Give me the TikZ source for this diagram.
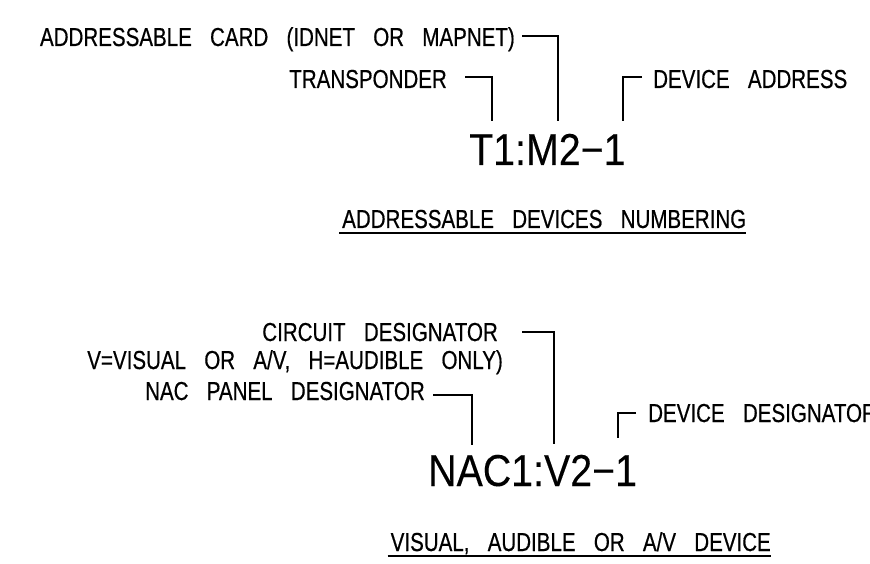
\documentclass[tikz,border=0pt]{standalone}
\usepackage{fontspec}
\setmainfont[FakeStretch=0.79,FakeBold=0.5,WordSpace=3.2]{Liberation Sans}
\newfontfamily\codefont[FakeStretch=0.88,FakeBold=0.2]{Liberation Sans}
\begin{document}
\begin{tikzpicture}[x=1pt,y=-1pt,
  lbl/.style={inner sep=0pt, font=\fontsize{26}{31}\selectfont},
  code/.style={inner sep=0pt, font=\codefont\fontsize{44.7}{50}\selectfont},
  leader/.style={line width=1.7pt}]
\useasboundingbox (0,0) rectangle (870,564);
\clip (0,0) rectangle (870,564);
% ---------- top: addressable devices ----------
\node[lbl, anchor=base east] (card) at (515,46) {ADDRESSABLE CARD (IDNET OR MAPNET)};
\node[lbl, anchor=base east] (trans) at (447,88) {TRANSPONDER};
\node[lbl, anchor=base west] (addr) at (653,88) {DEVICE ADDRESS};
\node[code, anchor=base west] (code1) at (469,165) {T1:M2−1};
\node[lbl, anchor=base west] (title1) at (342,228) {ADDRESSABLE DEVICES NUMBERING};
\draw[leader] ([xshift=-3pt,yshift=-5pt]title1.base west) -- ([yshift=-5pt]title1.base east);
\coordinate (cardA) at (522,36);  \coordinate (cardB) at (558,121);
\coordinate (transA) at (465,77); \coordinate (transB) at (492,121);
\coordinate (addrA) at (642,77);  \coordinate (addrB) at (623,121);
\draw[leader] (cardA) -| (cardB);
\draw[leader] (transA) -| (transB);
\draw[leader] (addrA) -| (addrB);
% ---------- bottom: NAC devices ----------
\node[lbl, anchor=base east] (circ) at (498,341) {CIRCUIT DESIGNATOR};
\node[lbl, anchor=base east] (vis) at (503,369) {V=VISUAL OR A/V, H=AUDIBLE ONLY)};
\node[lbl, anchor=base east] (nacp) at (425,400) {NAC PANEL DESIGNATOR};
\node[lbl, anchor=base west] (devd) at (648,422) {DEVICE DESIGNATOR};
\node[code, anchor=base west] (code2) at (428,486) {NAC1:V2−1};
\node[lbl, anchor=base east] (title2) at (771,551) {VISUAL, AUDIBLE OR A/V DEVICE};
\draw[leader] ([xshift=-3pt,yshift=-5pt]title2.base west) -- ([yshift=-5pt]title2.base east);
\coordinate (circA) at (522,332); \coordinate (circB) at (554,444);
\coordinate (nacA) at (433,395);  \coordinate (nacB) at (472,445);
\coordinate (devA) at (636,413);  \coordinate (devB) at (618,438);
\draw[leader] (circA) -| (circB);
\draw[leader] (nacA) -| (nacB);
\draw[leader] (devA) -| (devB);
\end{tikzpicture}
\end{document}
